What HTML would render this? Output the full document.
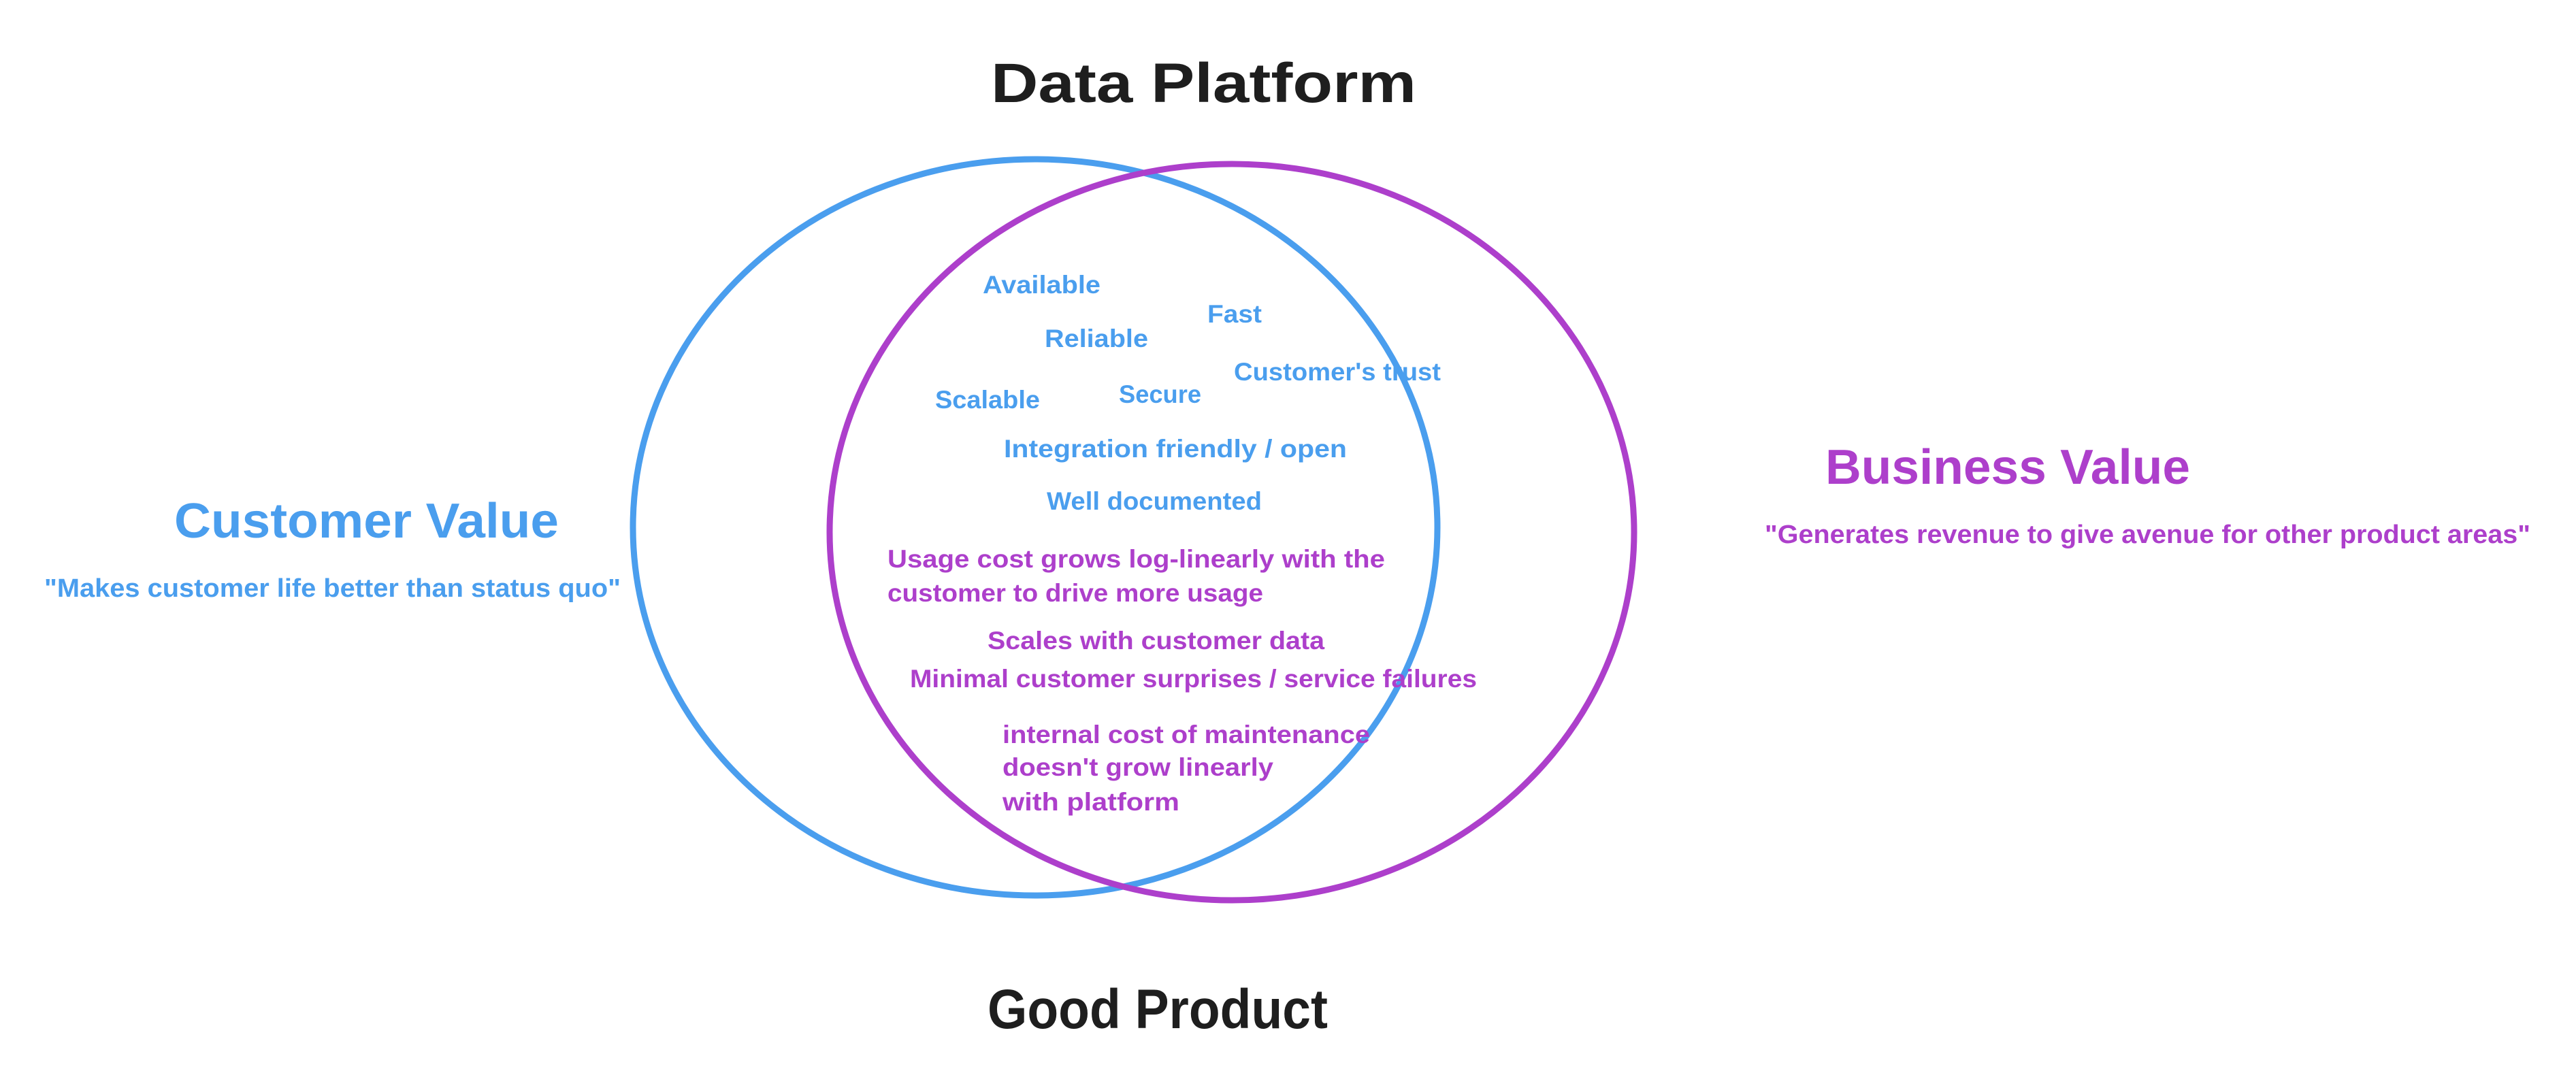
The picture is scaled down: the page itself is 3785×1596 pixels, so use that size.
<!DOCTYPE html>
<html><head><meta charset="utf-8"><style>
html,body{margin:0;padding:0;background:#fff;}
svg{display:block;}
text{font-family:"Liberation Sans",sans-serif;font-weight:bold;}
.b{fill:#4a9eee;}
.p{fill:#ad3fcb;}
.k{fill:#1e1e1e;}
</style></head><body>
<svg width="3785" height="1596" viewBox="0 0 3785 1596" xmlns="http://www.w3.org/2000/svg">
<rect width="3785" height="1596" fill="#fff"/>
<ellipse cx="1521" cy="775" rx="591" ry="541" fill="none" stroke="#4a9eee" stroke-width="9"/>
<ellipse cx="1810" cy="782" rx="591" ry="541" fill="none" stroke="#ad3fcb" stroke-width="9"/>

<text class="k" x="1456" y="150" font-size="82" textLength="625" lengthAdjust="spacingAndGlyphs">Data Platform</text>
<text class="k" x="1451" y="1511" font-size="82" textLength="500" lengthAdjust="spacingAndGlyphs">Good Product</text>

<text class="b" x="256" y="790" font-size="72" textLength="565" lengthAdjust="spacingAndGlyphs">Customer Value</text>
<text class="b" x="65" y="877" font-size="38" textLength="847" lengthAdjust="spacingAndGlyphs">"Makes customer life better than status quo"</text>
<text class="p" x="2682" y="711" font-size="72" textLength="536" lengthAdjust="spacingAndGlyphs">Business Value</text>
<text class="p" x="2593" y="798" font-size="38" textLength="1125" lengthAdjust="spacingAndGlyphs">"Generates revenue to give avenue for other product areas"</text>

<g font-size="37">
<text class="b" x="1444" y="431" textLength="173" lengthAdjust="spacingAndGlyphs">Available</text>
<text class="b" x="1774" y="474" textLength="80" lengthAdjust="spacingAndGlyphs">Fast</text>
<text class="b" x="1535" y="510" textLength="152" lengthAdjust="spacingAndGlyphs">Reliable</text>
<text class="b" x="1813" y="559" textLength="304" lengthAdjust="spacingAndGlyphs">Customer's trust</text>
<text class="b" x="1374" y="600" textLength="154" lengthAdjust="spacingAndGlyphs">Scalable</text>
<text class="b" x="1644" y="592" textLength="121" lengthAdjust="spacingAndGlyphs">Secure</text>
<text class="b" x="1475" y="672" textLength="504" lengthAdjust="spacingAndGlyphs">Integration friendly / open</text>
<text class="b" x="1538" y="749" textLength="316" lengthAdjust="spacingAndGlyphs">Well documented</text>
<text class="p" x="1304" y="834" textLength="731" lengthAdjust="spacingAndGlyphs">Usage cost grows log-linearly with the</text>
<text class="p" x="1304" y="884" textLength="552" lengthAdjust="spacingAndGlyphs">customer to drive more usage</text>
<text class="p" x="1451" y="954" textLength="495" lengthAdjust="spacingAndGlyphs">Scales with customer data</text>
<text class="p" x="1337" y="1010" textLength="833" lengthAdjust="spacingAndGlyphs">Minimal customer surprises / service failures</text>
<text class="p" x="1473" y="1092" textLength="540" lengthAdjust="spacingAndGlyphs">internal cost of maintenance</text>
<text class="p" x="1473" y="1140" textLength="398" lengthAdjust="spacingAndGlyphs">doesn't grow linearly</text>
<text class="p" x="1473" y="1191" textLength="260" lengthAdjust="spacingAndGlyphs">with platform</text>
</g>
</svg>
</body></html>
